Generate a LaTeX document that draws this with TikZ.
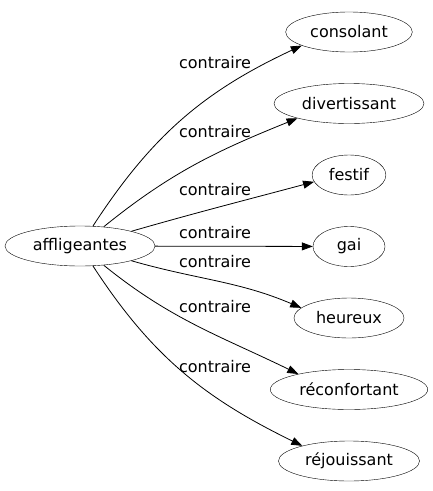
\documentclass[tikz,border=0pt]{standalone}
\usepackage{fontspec}
\setmainfont{DejaVu Sans}
\usetikzlibrary{arrows.meta,shapes.geometric}

\begin{document}
\begin{tikzpicture}[x=1pt,y=-1pt,
    word/.style={ellipse,draw,minimum width=72pt,minimum height=40pt,inner xsep=6pt,inner ysep=2pt,font=\fontsize{16}{19}\selectfont},
    rel/.style={font=\fontsize{16}{19}\selectfont,anchor=base},
    edge/.style={line width=0.8pt,-{Triangle[length=11pt,width=8pt]}}
    ]
\useasboundingbox (0,0) rectangle (432,491);
\node[word] (src) at (80,246) {affligeantes};
\node[word] (consolant) at (349,32) {consolant};
\node[word] (divertissant) at (349,103.5) {divertissant};
\node[word] (festif) at (349,175) {festif};
\node[word] (gai) at (349,246.5) {gai};
\node[word] (heureux) at (349,318) {heureux};
\node[word] (reconfortant) at (349,389.5) {réconfortant};
\node[word] (rejouissant) at (349,461) {réjouissant};

\draw[edge] (src.57) to[out=57,in=205] (consolant.196);
\draw[edge] (src.39) to[out=39,in=202] (divertissant.196);
\draw[edge] (src.16) to[out=16,in=195] (festif.191);
\draw[edge] (src) -- (gai);
\draw[edge] (src.-16) to[out=-16,in=157] (heureux.168);
\draw[edge] (src.-39) to[out=-39,in=154] (reconfortant.163);
\draw[edge] (src.-57) to[out=-57,in=154] (rejouissant.162);

\node[rel] (r1) at (215,68) {contraire};
\node[rel] (r2) at (215,137) {contraire};
\node[rel] (r3) at (215,195) {contraire};
\node[rel] (r4) at (215,238) {contraire};
\node[rel] (r5) at (215,267) {contraire};
\node[rel] (r6) at (215,312) {contraire};
\node[rel] (r7) at (215,372) {contraire};
\end{tikzpicture}
\end{document}
